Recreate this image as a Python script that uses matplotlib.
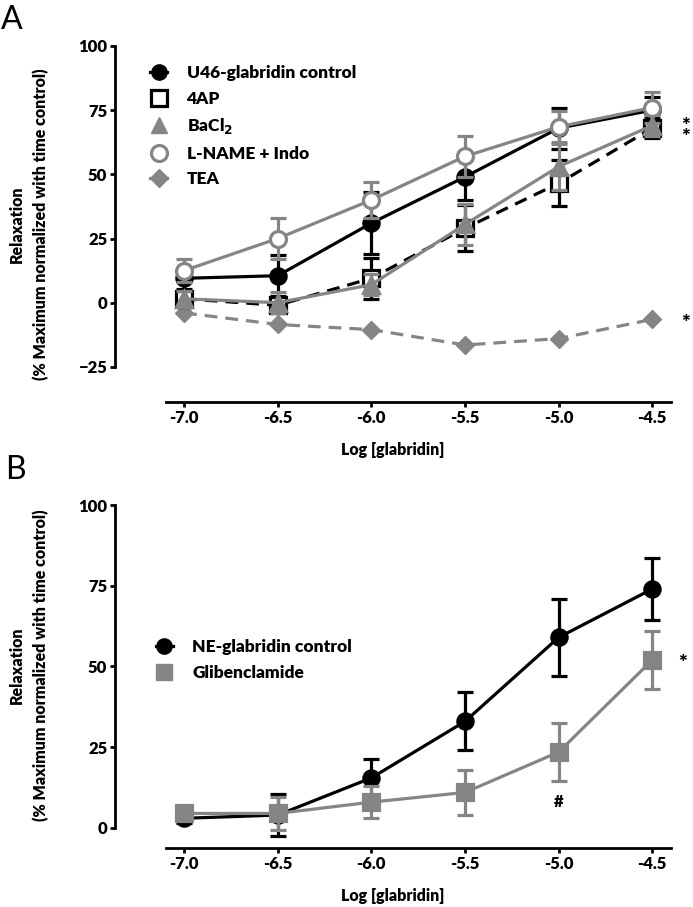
import matplotlib
matplotlib.use("Agg")
import matplotlib.pyplot as plt
from matplotlib.lines import Line2D

plt.rcParams['font.family'] = ['Lato', 'DejaVu Sans']

# ---------------- data ----------------
log_conc = [-7.0, -6.5, -6.0, -5.5, -5.0, -4.5]
xtick_labels = ["-7.0", "-6.5", "-6.0", "-5.5", "-5.0", "-4.5"]

# Panel A
u46_ctrl = [9.5, 10.5, 31.0, 49.0, 68.0, 75.0]
u46_ctrl_err = [4.0, 8.0, 12.0, 9.0, 8.0, 5.0]
ap4 = [1.5, -1.0, 9.5, 29.0, 46.5, 68.0]
ap4_err = [3.0, 3.0, 8.0, 9.0, 9.0, 4.0]
bacl2 = [1.5, 0.0, 7.0, 30.5, 53.0, 69.0]
bacl2_err = [3.0, 4.0, 4.0, 8.0, 9.0, 4.0]
lname = [12.5, 25.0, 40.0, 57.0, 68.5, 76.0]
lname_err = [4.5, 8.0, 7.0, 8.0, 6.0, 6.0]
tea = [-4.0, -8.5, -10.5, -16.5, -14.0, -6.5]

# Panel B
ne_ctrl = [3.0, 4.0, 15.5, 33.0, 59.0, 74.0]
ne_ctrl_err = [1.5, 6.5, 6.0, 9.0, 12.0, 9.5]
gliben = [4.5, 4.5, 8.0, 11.0, 23.5, 52.0]
gliben_err = [2.0, 5.0, 5.0, 7.0, 9.0, 9.0]

GRAY = '#858585'
BLACK = '#000000'

fig = plt.figure(figsize=(6.93, 9.07), dpi=100)
W, H = 693, 907

def px_axes(left, top, right, bottom):
    return fig.add_axes([left / W, 1 - bottom / H, (right - left) / W, (bottom - top) / H])

axA = px_axes(115, 46, 671, 402)
axB = px_axes(115, 505, 671, 848)

LW = 2.3
MS = 11
CAP = 6
FS_TICK = 12
FS_LAB = 11.5
FS_LEG = 12.5


def style(ax, ylim, yticks, ybounds):
    ax.set_xlim(-7.369, -4.40)
    ax.set_ylim(*ylim)
    for s in ['top', 'right']:
        ax.spines[s].set_visible(False)
    ax.spines['left'].set_bounds(*ybounds)
    ax.spines['bottom'].set_bounds(-7.096, -4.40)
    for s in ['left', 'bottom']:
        ax.spines[s].set_linewidth(2.0)
    ax.set_xticks(log_conc)
    ax.set_xticklabels(xtick_labels)
    ax.set_yticks(yticks)
    ax.tick_params(width=2.0, length=3.5, labelsize=FS_TICK, pad=2)
    for t in ax.get_xticklabels() + ax.get_yticklabels():
        t.set_fontweight('heavy')
    ax.set_xlabel('Log [glabridin]', fontsize=FS_LAB, fontweight='heavy', labelpad=12)


def eb(ax, y, err, color, marker, ls, mfc=None, z=2, ms=MS):
    ax.errorbar(log_conc, y, yerr=err, color=color, marker=marker, ls=ls,
                lw=LW, ms=ms, mfc=mfc if mfc else color, mec=color, mew=2.3,
                capsize=CAP, capthick=LW, elinewidth=LW, zorder=z,
                dashes=(4, 2.5) if ls == '--' else (None, None))

# ---- Panel A ----
axA.plot(log_conc, tea, color=GRAY, ls='--', dashes=(4, 2.5), lw=LW, marker='D', ms=9.5, zorder=1)
eb(axA, ap4, ap4_err, BLACK, 's', '--', mfc='white', z=2)
eb(axA, u46_ctrl, u46_ctrl_err, BLACK, 'o', '-', z=3)
eb(axA, bacl2, bacl2_err, GRAY, '^', '-', z=4, ms=11.5)
eb(axA, lname, lname_err, GRAY, 'o', '-', mfc='white', z=5, ms=11.5)
style(axA, (-38.7, 100), [-25, 0, 25, 50, 75, 100], (-25, 100))

handlesA = [
    Line2D([], [], color=BLACK, marker='o', ms=MS, lw=LW),
    Line2D([], [], color=BLACK, marker='s', ms=MS, mfc='white', mew=2.3, lw=0),
    Line2D([], [], color=GRAY, marker='^', ms=11.5, lw=0),
    Line2D([], [], color=GRAY, marker='o', ms=11.5, mfc='white', mew=2.3, lw=0),
    Line2D([], [], color=GRAY, marker='D', ms=9.5, lw=LW),
]
labelsA = ['U46-glabridin control', '4AP', 'BaCl$_\\mathbf{2}$', 'L-NAME + Indo', 'TEA']
axA.legend(handlesA, labelsA, loc='upper left', bbox_to_anchor=(0.035, 0.99),
           frameon=False, handlelength=1.0, handletextpad=1.1, labelspacing=0.55,
           prop={'weight': 'heavy', 'size': FS_LEG})

axA.text(-4.345, 66.5, '*\n*', fontsize=15, fontweight='heavy', va='center', ha='left',
         linespacing=0.55)
axA.text(-4.345, -8.0, '*', fontsize=15, fontweight='heavy', va='center', ha='left')

# ---- Panel B ----
eb(axB, ne_ctrl, ne_ctrl_err, BLACK, 'o', '-', z=2)
eb(axB, gliben, gliben_err, GRAY, 's', '-', z=3, ms=12)
style(axB, (-6.2, 100), [0, 25, 50, 75, 100], (0, 100))

handlesB = [
    Line2D([], [], color=BLACK, marker='o', ms=MS, lw=LW),
    Line2D([], [], color=GRAY, marker='s', ms=12, lw=0),
]
axB.legend(handlesB, ['NE-glabridin control', 'Glibenclamide'], loc='upper left',
           bbox_to_anchor=(0.045, 0.655), frameon=False, handlelength=1.0,
           handletextpad=1.1, labelspacing=0.6, prop={'weight': 'heavy', 'size': FS_LEG})

axB.text(-4.36, 51, '*', fontsize=15, fontweight='heavy', va='center', ha='left')
axB.text(-5.0, 8, '#', fontsize=12, fontweight='heavy', va='center', ha='center')

# y labels and panel letters
for ax, yc in [(axA, 224), (axB, 665)]:
    fig.text(17 / W, 1 - yc / H, 'Relaxation', rotation=90, fontsize=FS_LAB,
             fontweight='heavy', ha='center', va='center')
    fig.text(41 / W, 1 - yc / H, '(% Maximum normalized with time control)', rotation=90,
             fontsize=FS_LAB, fontweight='heavy', ha='center', va='center')

fig.text(1 / W, 1 - 20 / H, 'A', fontsize=23, ha='left', va='center')
fig.text(5 / W, 1 - 470 / H, 'B', fontsize=23, ha='left', va='center')

fig.savefig('out.png', dpi=100)
